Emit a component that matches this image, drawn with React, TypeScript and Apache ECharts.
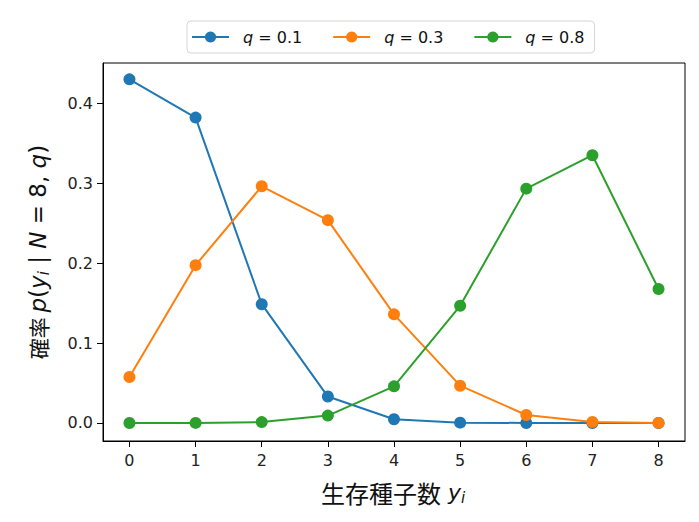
import React, { useEffect, useRef } from "react";
import * as echarts from "echarts";

const seeds = [0, 1, 2, 3, 4, 5, 6, 7, 8];
const qLabels = ["0.1", "0.3", "0.8"];
const probQ01 = [0.4305, 0.3826, 0.1488, 0.0331, 0.0046, 0.0004, 0.0, 0.0, 0.0];
const probQ03 = [0.0576, 0.1977, 0.2965, 0.2541, 0.1361, 0.0467, 0.01, 0.0012, 0.0001];
const probQ08 = [0.0, 0.0001, 0.0011, 0.0092, 0.0459, 0.1468, 0.2936, 0.3355, 0.1678];
const yTicks = [0, 0.1, 0.2, 0.3, 0.4];
const colors = ["#1f77b4", "#ff7f0e", "#2ca02c"];

const FONT = "DejaVu Sans";
const CJK = "Noto Sans CJK JP";

export default function App() {
  const ref = useRef<HTMLDivElement>(null);
  useEffect(() => {
    if (!ref.current) return;
    const chart = echarts.init(ref.current, null, { renderer: "svg" });
    const allSeries = [probQ01, probQ03, probQ08];
    const xRich = {
      a: { fontSize: 24, fontFamily: CJK, fill: "#111" },
      i: { fontSize: 22, fontStyle: "italic", fontFamily: FONT, fill: "#111" },
      s: { fontSize: 15, fontStyle: "italic", fontFamily: FONT, fill: "#111", padding: [12, 0, 0, 0] },
    };
    const yRich = {
      a: { fontSize: 21, fontFamily: CJK, fill: "#111" },
      m: { fontSize: 23, fontFamily: FONT, fill: "#111" },
      i: { fontSize: 23, fontStyle: "italic", fontFamily: FONT, fill: "#111" },
      s: { fontSize: 15, fontStyle: "italic", fontFamily: FONT, fill: "#111", padding: [12, 0, 0, 0] },
    };
    chart.setOption({
      animation: false,
      textStyle: { fontFamily: FONT },
      grid: { left: 103, top: 63, width: 582, height: 378, show: true, borderColor: "#000", borderWidth: 1, backgroundColor: "transparent" },
      legend: {
        left: 187,
        top: 21,
        padding: [8, 10, 8, 4],
        borderColor: "#d5d5d5",
        borderWidth: 1,
        borderRadius: 4,
        itemGap: 30,
        itemWidth: 37,
        itemHeight: 14,
        textStyle: {
          fontSize: 16,
          color: "#111",
          fontFamily: FONT,
          padding: [0, 0, 0, 9],
          rich: {
            i: { fontStyle: "italic", fontSize: 16, fontFamily: FONT, color: "#111" },
            n: { fontSize: 16, fontFamily: FONT, color: "#111" },
          },
        },
        formatter: (name: string) => `{i|q}{n| = ${name.split("=")[1]}}`,
        data: qLabels.map((q) => "q=" + q),
      },
      xAxis: {
        type: "value",
        min: -0.4,
        max: 8.4,
        splitLine: { show: false },
        axisLine: { show: true, onZero: false, lineStyle: { color: "#000" } },
        axisTick: { show: true, length: 6, customValues: seeds, lineStyle: { color: "#000" } },
        axisLabel: { customValues: seeds, color: "#222", fontSize: 16, margin: 11, fontFamily: FONT },
      },
      yAxis: {
        type: "value",
        min: -0.0226,
        max: 0.451,
        splitLine: { show: false },
        axisLine: { show: true, onZero: false, lineStyle: { color: "#000" } },
        axisTick: { show: true, length: 6, customValues: yTicks, lineStyle: { color: "#000" } },
        axisLabel: {
          customValues: yTicks,
          color: "#222",
          fontSize: 16,
          margin: 10,
          fontFamily: FONT,
          formatter: (v: number) => v.toFixed(1),
        },
      },
      graphic: [
        {
          type: "text",
          x: 393,
          y: 492,
          style: {
            text: "{a|生存種子数}{i| y}{s|i}",
            align: "center",
            verticalAlign: "middle",
            rich: xRich,
          },
        },
        {
          type: "text",
          x: 38,
          y: 252,
          rotation: Math.PI / 2,
          style: {
            text: "{a|確率 }{i|p}{m|(}{i|y}{s|i}{m| | }{i|N}{m| = 8, }{i|q}{m|)}",
            align: "center",
            verticalAlign: "middle",
            rich: yRich,
          },
        },
      ],
      series: allSeries.map((vals, k) => ({
        name: "q=" + qLabels[k],
        type: "line",
        data: seeds.map((s, i) => [s, vals[i]]),
        symbol: "circle",
        symbolSize: 12,
        lineStyle: { width: 2, color: colors[k] },
        itemStyle: { color: colors[k] },
        z: 2 + k,
      })),
    });
    return () => chart.dispose();
  }, []);
  return <div ref={ref} style={{ position: "absolute", left: 0, top: 0, width: 699, height: 522 }} />;
}
